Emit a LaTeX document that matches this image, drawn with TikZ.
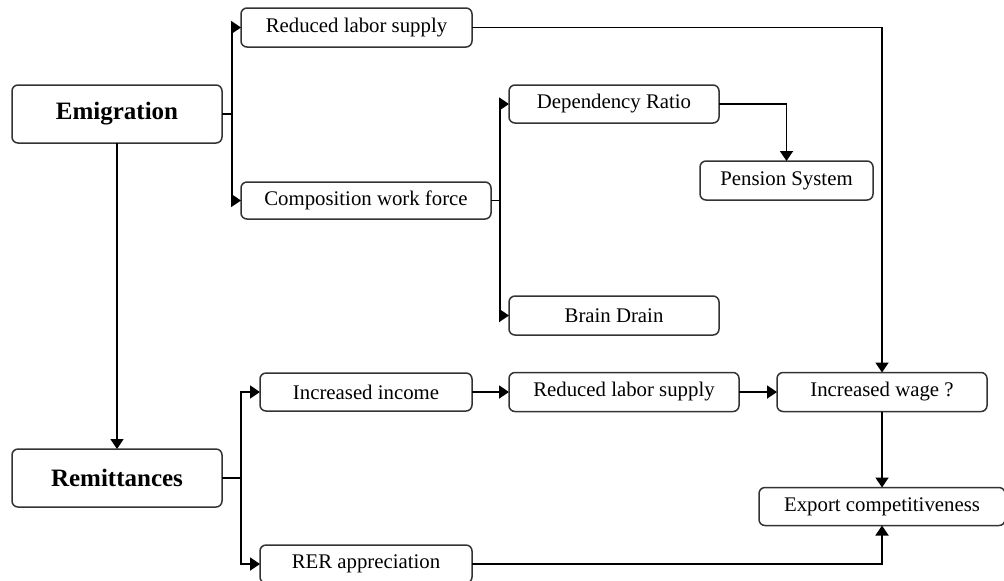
\documentclass[tikz,border=0pt]{standalone}
\usepackage{fontspec}
\setmainfont{Liberation Serif}
\usepackage{tikz}
\usetikzlibrary{arrows.meta,positioning}

\begin{document}
\begin{tikzpicture}[
  x=0.5pt, y=-0.5pt,
  box/.style={draw=black!80,line width=0.75pt,rounded corners=3pt,fill=white,
              font=\fontsize{10.4}{12}\selectfont,inner sep=2pt,outer sep=0pt,
              minimum width=105pt,minimum height=19.5pt,align=center},
  bigbox/.style={box,font=\fontsize{12.5}{14}\selectfont\bfseries,minimum height=29pt},
  arr/.style={-{Triangle[length=5pt,width=6.5pt]},line width=0.9pt}
]
  \useasboundingbox (0,0) rectangle (1004,580);

  \node[bigbox] (emig) at (117,114) {Emigration};
  \node[bigbox, below=153pt of emig] (remit) {Remittances};

  \node[box, right=9.5pt of emig, yshift=43.25pt, minimum width=115.5pt] (labor) {Reduced labor supply};
  \node[box, right=9.5pt of emig, yshift=-43.25pt, minimum width=125pt, minimum height=18.5pt] (comp) {Composition work force};

  \node[box, right=9pt of comp, yshift=48.25pt, minimum height=19pt] (dep) {Dependency Ratio};
  \node[box, right=9pt of comp, yshift=-57.5pt] (brain) {Brain Drain};
  \node[box, below=19pt of dep, xshift=86.25pt, minimum width=86.5pt] (pension) {Pension System};

  \node[box, right=19pt of remit, yshift=43pt, minimum width=106pt, minimum height=19pt] (income) {Increased income};
  \node[box, right=19pt of remit, yshift=-43pt, minimum width=106pt, minimum height=19pt] (rer) {RER appreciation};
  \node[box, right=18.5pt of income, minimum width=115pt] (labor2) {Reduced labor supply};
  \node[box, right=19pt of labor2] (wage) {Increased wage ?};
  \node[box, below=38pt of wage, minimum width=123pt, minimum height=19pt] (export) {Export competitiveness};

  \draw[arr] (emig.east) -- ++(10,0) |- (labor.west);
  \draw[arr] (emig.east) -- ++(10,0) |- (comp.west);
  \draw[arr] (emig) -- (remit);
  \draw[arr] (comp.east) -- ++(9,0) |- (dep.west);
  \draw[arr] (comp.east) -- ++(9,0) |- (brain.west);
  \draw[arr] (dep.east) -| (pension.north);
  \draw[arr] (labor.east) -| (wage.north);

  \draw[arr] (remit.east) -- ++(19,0) |- (income.west);
  \draw[arr] (remit.east) -- ++(19,0) |- (rer.west);
  \draw[arr] (income) -- (labor2);
  \draw[arr] (labor2) -- (wage);
  \draw[arr] (wage) -- (export);
  \draw[arr] (rer.east) -| (export.south);
\end{tikzpicture}
\end{document}
